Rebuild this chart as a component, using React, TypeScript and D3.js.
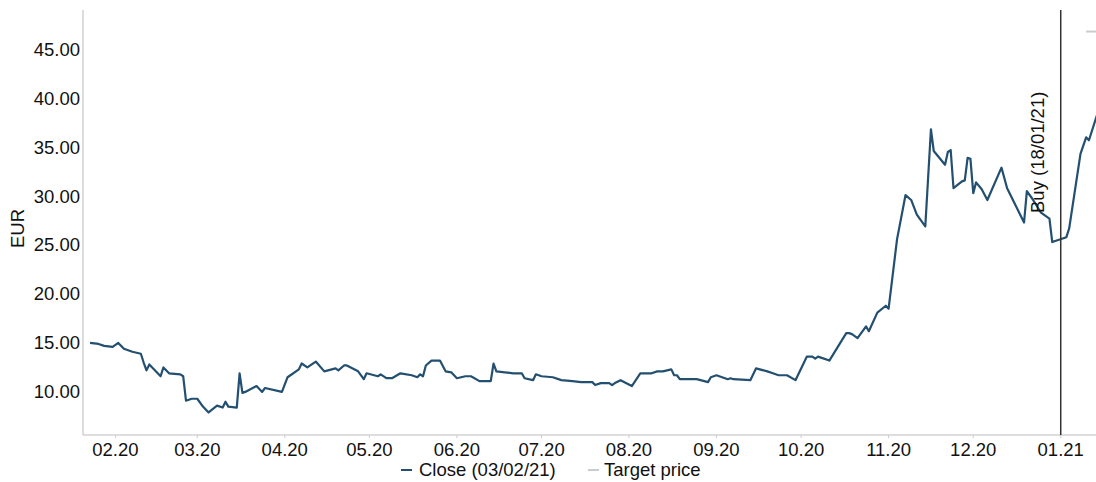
import React from "react"
import * as d3 from "d3"

// closing prices, EUR
const closeDates = [
  "2020-01-23","2020-01-26","2020-01-28","2020-01-31","2020-02-02","2020-02-04","2020-02-07","2020-02-10","2020-02-11","2020-02-12",
  "2020-02-13","2020-02-17","2020-02-18","2020-02-20","2020-02-24","2020-02-25","2020-02-26","2020-02-28","2020-03-01","2020-03-03",
  "2020-03-05","2020-03-08","2020-03-10","2020-03-11","2020-03-12","2020-03-15","2020-03-16","2020-03-17","2020-03-18","2020-03-22",
  "2020-03-24","2020-03-25","2020-03-31","2020-04-02","2020-04-06","2020-04-07","2020-04-09","2020-04-12","2020-04-15","2020-04-19",
  "2020-04-20","2020-04-22","2020-04-23","2020-04-27","2020-04-29","2020-04-30","2020-05-04","2020-05-05","2020-05-07","2020-05-09",
  "2020-05-12","2020-05-16","2020-05-18","2020-05-19","2020-05-20","2020-05-21","2020-05-23","2020-05-26","2020-05-28","2020-05-30",
  "2020-06-01","2020-06-04","2020-06-06","2020-06-09","2020-06-13","2020-06-14","2020-06-15","2020-06-18","2020-06-21","2020-06-24",
  "2020-06-25","2020-06-28","2020-06-29","2020-07-01","2020-07-05","2020-07-08","2020-07-12","2020-07-15","2020-07-19","2020-07-20",
  "2020-07-22","2020-07-25","2020-07-26","2020-07-27","2020-07-29","2020-08-02","2020-08-05","2020-08-09","2020-08-11","2020-08-13",
  "2020-08-16","2020-08-17","2020-08-18","2020-08-19","2020-08-23","2020-08-25","2020-08-29","2020-08-30","2020-09-01","2020-09-05",
  "2020-09-06","2020-09-07","2020-09-13","2020-09-15","2020-09-19","2020-09-21","2020-09-23","2020-09-26","2020-09-29","2020-10-03",
  "2020-10-05","2020-10-06","2020-10-07","2020-10-11","2020-10-17","2020-10-18","2020-10-19","2020-10-21","2020-10-24","2020-10-25",
  "2020-10-28","2020-10-31","2020-11-01","2020-11-04","2020-11-07","2020-11-09","2020-11-11","2020-11-14","2020-11-16","2020-11-17",
  "2020-11-21","2020-11-22","2020-11-23","2020-11-24","2020-11-27","2020-11-28","2020-11-29","2020-11-30","2020-12-01","2020-12-02",
  "2020-12-04","2020-12-06","2020-12-11","2020-12-13","2020-12-19","2020-12-20","2020-12-22","2020-12-25","2020-12-28","2020-12-29",
  "2021-01-03","2021-01-04","2021-01-08","2021-01-10","2021-01-11","2021-01-14",
]
const closeValues = [
  15.0,14.9,14.7,14.6,15.0,14.4,14.1,13.9,13.0,12.2,
  12.8,11.6,12.5,11.9,11.8,11.6,9.1,9.3,9.3,8.5,
  7.9,8.6,8.4,9.0,8.5,8.4,11.9,9.9,10.0,10.6,
  10.0,10.4,10.0,11.5,12.3,12.9,12.5,13.1,12.1,12.4,
  12.2,12.7,12.7,12.1,11.3,11.9,11.6,11.8,11.4,11.4,
  11.9,11.7,11.5,11.8,11.6,12.7,13.2,13.2,12.1,12.0,
  11.4,11.6,11.6,11.1,11.1,12.9,12.1,12.0,11.9,11.9,
  11.4,11.2,11.8,11.6,11.5,11.2,11.1,11.0,11.0,10.7,
  10.9,10.9,10.7,10.9,11.2,10.6,11.9,11.9,12.1,12.1,
  12.3,11.7,11.7,11.3,11.3,11.3,11.0,11.5,11.7,11.3,
  11.4,11.3,11.2,12.4,12.1,11.9,11.7,11.7,11.2,13.6,
  13.6,13.4,13.6,13.2,16.0,16.0,15.9,15.5,16.7,16.2,
  18.1,18.8,18.5,25.6,30.1,29.6,28.1,26.9,36.8,34.6,
  33.2,34.5,34.7,30.8,31.5,31.6,33.9,33.8,30.3,31.4,
  30.7,29.6,32.9,30.8,27.3,30.5,29.7,28.3,27.7,25.3,
  25.8,26.7,34.3,36.0,35.7,38.4,
]

const targetPrice = 46.8
const targetStart = "2021-01-10"
const buyDate = "2021-01-01"
const buyLabel = "Buy (18/01/21)"
const xDomain = ["2020-01-20T12:00", "2021-01-13T12:00"]
const yDomain = [5.6, 49]
const yTicks = [10, 15, 20, 25, 30, 35, 40, 45]
const closeLegend = "Close (03/02/21)"
const targetLegend = "Target price"

const W = 1096
const H = 482
const m = { left: 83, right: 0, top: 10, bottom: 47 }
const font = "'Liberation Sans', Arial, sans-serif"
const lineColor = "#234f70"
const fs = 18.5

export default function App() {
  const parse = (s: string) => new Date(s)
  const x = d3.scaleTime().domain(xDomain.map(parse)).range([m.left, W - m.right])
  const y = d3.scaleLinear().domain(yDomain).range([H - m.bottom, m.top])
  const data = closeDates.map((d, i) => ({ date: parse(d), v: closeValues[i] }))
  const line = d3.line<{ date: Date; v: number }>().x(d => x(d.date)).y(d => y(d.v))
  const xTicks = d3.timeMonth.range(new Date(2020, 1, 1), new Date(2021, 0, 2))
  const fmt = d3.timeFormat("%m.%y")
  const y0 = H - m.bottom
  const bx = x(parse(buyDate))

  return (
    <svg width={W} height={H} style={{ position: "absolute", left: 0, top: 0 }} fontFamily={font}>
      <defs>
        <clipPath id="plot">
          <rect x={m.left} y={m.top} width={W - m.left - m.right} height={y0 - m.top} />
        </clipPath>
      </defs>
      <line x1={m.left} x2={m.left} y1={m.top} y2={y0} stroke="#bbb" />
      <line x1={m.left} x2={W} y1={y0} y2={y0} stroke="#bbb" />
      {yTicks.map(t => (
        <text key={t} x={m.left - 3} y={y(t)} dy="0.35em" textAnchor="end" fontSize={fs} fill="#111">
          {t.toFixed(2)}
        </text>
      ))}
      {xTicks.map(t => (
        <g key={+t}>
          <line x1={x(t)} x2={x(t)} y1={y0} y2={y0 + 3} stroke="#ccc" />
          <text x={x(t)} y={y0 + 21} textAnchor="middle" fontSize={fs} fill="#111">{fmt(t)}</text>
        </g>
      ))}
      <text transform={`translate(24,${(m.top + y0) / 2 + 6}) rotate(-90)`} textAnchor="middle" fontSize={fs} fill="#111">EUR</text>
      <g clipPath="url(#plot)">
        <path d={line(data) ?? ""} fill="none" stroke={lineColor} strokeWidth={2.2} strokeLinejoin="round" />
        <line x1={x(parse(targetStart))} x2={W} y1={y(targetPrice)} y2={y(targetPrice)} stroke="#ccc" strokeWidth={2} />
      </g>
      <line x1={bx} x2={bx} y1={m.top} y2={y0} stroke="#333" strokeWidth={1.5} />
      <text transform={`translate(${bx - 17},213) rotate(-90)`} fontSize={fs} fill="#111">{buyLabel}</text>
      <g transform={`translate(0,${H - 6})`} fontSize={fs} fill="#111">
        <line x1={401} x2={412} y1={-6} y2={-6} stroke={lineColor} strokeWidth={2} />
        <text x={419} y={0}>{closeLegend}</text>
        <line x1={588} x2={599} y1={-6} y2={-6} stroke="#ccc" strokeWidth={2} />
        <text x={604} y={0}>{targetLegend}</text>
      </g>
    </svg>
  )
}
